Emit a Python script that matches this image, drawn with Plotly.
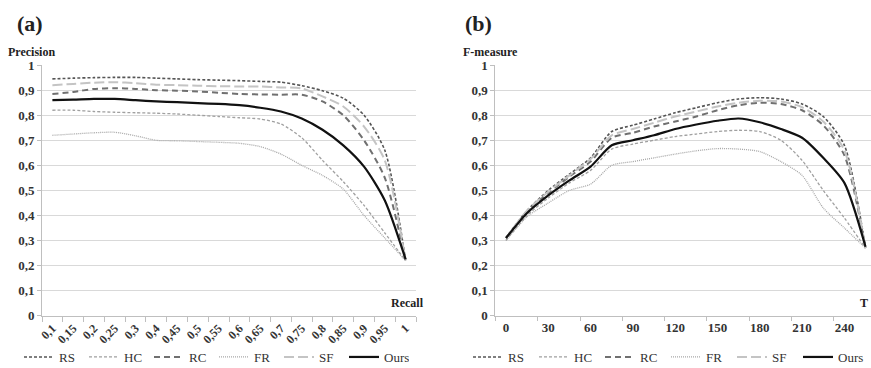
import plotly.graph_objects as go

W, H = 871, 368

# ---------- data ----------
recall_labels = ["0,1", "0,15", "0,2", "0,25", "0,3", "0,4", "0,45", "0,5", "0,55",
                 "0,6", "0,65", "0,7", "0,75", "0,8", "0,85", "0,9", "0,95", "1"]

prec_RS = [0.945, 0.948, 0.950, 0.951, 0.951, 0.948, 0.945, 0.942, 0.940,
           0.938, 0.935, 0.932, 0.918, 0.898, 0.868, 0.800, 0.660, 0.220]
prec_HC = [0.820, 0.820, 0.815, 0.812, 0.810, 0.808, 0.805, 0.800, 0.795,
           0.790, 0.785, 0.765, 0.710, 0.620, 0.535, 0.440, 0.330, 0.220]
prec_RC = [0.885, 0.893, 0.905, 0.908, 0.905, 0.900, 0.898, 0.895, 0.890,
           0.885, 0.883, 0.882, 0.882, 0.855, 0.800, 0.700, 0.550, 0.220]
prec_FR = [0.720, 0.725, 0.730, 0.732, 0.718, 0.700, 0.698, 0.695, 0.692,
           0.688, 0.675, 0.645, 0.600, 0.560, 0.505, 0.400, 0.310, 0.220]
prec_SF = [0.920, 0.925, 0.930, 0.932, 0.928, 0.922, 0.920, 0.918, 0.916,
           0.915, 0.915, 0.911, 0.907, 0.875, 0.835, 0.755, 0.620, 0.220]
prec_Ours = [0.860, 0.862, 0.865, 0.865, 0.860, 0.855, 0.852, 0.848, 0.845,
             0.840, 0.830, 0.815, 0.787, 0.742, 0.680, 0.595, 0.460, 0.225]

T_values = [0, 15, 30, 45, 60, 75, 90, 105, 120, 135, 150, 165, 180, 195, 210, 225, 240, 255]
T_ticks = [0, 30, 60, 90, 120, 150, 180, 210, 240]

f_RS = [0.310, 0.420, 0.500, 0.565, 0.630, 0.735, 0.760, 0.785, 0.810,
        0.830, 0.850, 0.865, 0.870, 0.865, 0.845, 0.795, 0.680, 0.270]
f_HC = [0.300, 0.400, 0.470, 0.530, 0.580, 0.665, 0.685, 0.700, 0.715,
        0.725, 0.735, 0.740, 0.735, 0.700, 0.620, 0.500, 0.390, 0.270]
f_RC = [0.310, 0.415, 0.490, 0.555, 0.615, 0.710, 0.730, 0.755, 0.775,
        0.795, 0.820, 0.840, 0.850, 0.845, 0.820, 0.760, 0.640, 0.270]
f_FR = [0.300, 0.395, 0.450, 0.500, 0.525, 0.600, 0.615, 0.630, 0.645,
        0.658, 0.667, 0.665, 0.655, 0.615, 0.560, 0.430, 0.350, 0.270]
f_SF = [0.310, 0.420, 0.495, 0.560, 0.625, 0.720, 0.745, 0.770, 0.795,
        0.815, 0.835, 0.850, 0.858, 0.855, 0.832, 0.775, 0.660, 0.270]
f_Ours = [0.310, 0.410, 0.480, 0.540, 0.595, 0.680, 0.700, 0.720, 0.745,
          0.763, 0.778, 0.787, 0.772, 0.745, 0.710, 0.630, 0.530, 0.275]

y_ticks = [0, 0.1, 0.2, 0.3, 0.4, 0.5, 0.6, 0.7, 0.8, 0.9, 1]
y_ticktext = ["0", "0,1", "0,2", "0,3", "0,4", "0,5", "0,6", "0,7", "0,8", "0,9", "1"]

series_names = ["RS", "HC", "RC", "FR", "SF", "Ours"]

# ---------- styles ----------
styles = {
    "RS": dict(color="#555555", width=1.6, dash="3px,2px"),
    "HC": dict(color="#a0a0a0", width=1.3, dash="3px,2px"),
    "RC": dict(color="#707070", width=2.0, dash="6px,4px"),
    "FR": dict(color="#a8a8a8", width=1.3, dash="1px,1px"),
    "SF": dict(color="#c4c4c4", width=2.0, dash="10px,4px"),
    "Ours": dict(color="#111111", width=2.2, dash="solid"),
}

SERIF = "Liberation Serif"

def px_x(p):
    return p / W

def px_y(p):
    return (H - p) / H

fig = go.Figure()

prec = [prec_RS, prec_HC, prec_RC, prec_FR, prec_SF, prec_Ours]
fmeas = [f_RS, f_HC, f_RC, f_FR, f_SF, f_Ours]

for name, ys in zip(series_names, prec):
    fig.add_trace(go.Scatter(
        x=recall_labels, y=ys, name=name, mode="lines",
        line=dict(shape="spline", smoothing=0.7, **styles[name]),
        xaxis="x", yaxis="y", legend="legend"))

for name, ys in zip(series_names, fmeas):
    fig.add_trace(go.Scatter(
        x=T_values, y=ys, name=name, mode="lines",
        line=dict(shape="spline", smoothing=0.7, **styles[name]),
        xaxis="x2", yaxis="y2", legend="legend2"))

grid = "#d9d9d9"
axc = "#bfbfbf"
tickfont = dict(family=SERIF, size=13, color="#333333", weight="bold")

yaxis_common = dict(
    range=[0, 1.0005], tickvals=y_ticks, ticktext=y_ticktext,
    showgrid=True, gridcolor=grid, gridwidth=1,
    showline=True, linecolor=axc, linewidth=1,
    ticks="outside", ticklen=4, tickcolor=axc,
    zeroline=False, tickfont=tickfont, fixedrange=True)

a_left, a_right = 42, 416
b_left = 495.4
plot_top, plot_bottom = 65, 315.7
b_range_right = -7.5 + (W - b_left) / (21.15 / 15)

legend_common = dict(
    orientation="h", yanchor="middle", y=px_y(357),
    xanchor="left", entrywidthmode="pixels",
    font=dict(family=SERIF, size=13, color="#333333"),
    bgcolor="rgba(0,0,0,0)", itemclick=False, itemdoubleclick=False,
    borderwidth=0, tracegroupgap=0)

fig.update_layout(
    width=W, height=H,
    margin=dict(l=0, r=0, t=0, b=0, autoexpand=False),
    paper_bgcolor="white", plot_bgcolor="white",
    xaxis=dict(
        type="category", domain=[px_x(a_left), px_x(a_right)], anchor="y",
        range=[-0.5, 17.5], tickson="boundaries",
        ticks="outside", ticklen=5, tickcolor=axc,
        showline=True, linecolor=axc, linewidth=1, showgrid=False,
        tickangle=-45, tickfont=dict(family=SERIF, size=12, color="#333333", weight="bold")),
    yaxis=dict(domain=[px_y(plot_bottom), px_y(plot_top)], anchor="x", **yaxis_common),
    xaxis2=dict(
        type="linear", domain=[px_x(b_left), 1.0], anchor="y2",
        range=[-7.5, b_range_right], tickvals=T_ticks, ticktext=[str(t) for t in T_ticks],
        ticks="", showline=True, linecolor=axc, linewidth=1, showgrid=False, zeroline=False,
        minor=dict(ticks="outside", tick0=-7.5, dtick=30, ticklen=4, tickcolor=axc, showgrid=False),
        tickfont=tickfont),
    yaxis2=dict(domain=[px_y(plot_bottom), px_y(plot_top)], anchor="x2", **yaxis_common),
    legend=dict(x=px_x(19), entrywidth=20, **legend_common),
    legend2=dict(x=px_x(468), entrywidth=21, **legend_common),
    showlegend=True,
)

def ann(text, xp, yp, size, xanchor="left"):
    fig.add_annotation(
        text=text, x=px_x(xp), y=px_y(yp), xref="paper", yref="paper",
        xanchor=xanchor, yanchor="middle", showarrow=False,
        font=dict(family=SERIF, size=size, color="#222222", weight="bold"))

ann("(a)", 15, 24, 22)
ann("Precision", 6, 51.5, 12)
ann("Recall", 426, 303, 12, xanchor="right")
ann("(b)", 463, 24, 22)
ann("F-measure", 461, 51.5, 12)
ann("T", 870, 303, 12, xanchor="right")

fig.write_html("out.html", config={"displayModeBar": False},
               post_script="document.body.style.margin='0';document.body.style.overflow='hidden';")
